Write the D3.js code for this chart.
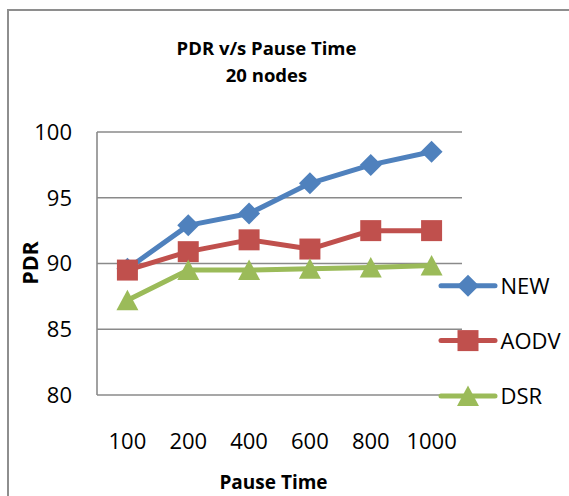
<!DOCTYPE html>
<html>
<head>
<meta charset="utf-8">
<script src="https://cdn.jsdelivr.net/npm/d3@7"></script>
<style>
  html, body { margin: 0; padding: 0; background: #fff; }
  svg { display: block; font-family: "Open Sans", sans-serif; }
</style>
</head>
<body>
<div id="draw-here"></div>
<script>
// values
var categories = ['100', '200', '400', '600', '800', '1000'];
var newPdr  = [89.6, 92.9, 93.8, 96.1, 97.5, 98.5];
var aodvPdr = [89.5, 90.9, 91.8, 91.1, 92.5, 92.5];
var dsrPdr  = [87.2, 89.5, 89.5, 89.6, 89.7, 89.85];
var yTicks = [80, 85, 90, 95, 100];

var seriesNames = ['NEW', 'AODV', 'DSR'];
var seriesValues = [newPdr, aodvPdr, dsrPdr];
var colors = ['#4f81bd', '#c0504d', '#9bbb59'];
var shapes = ['diamond', 'square', 'triangle'];

var width = 569, height = 496;
var plot = { left: 97, right: 462, top: 132, bottom: 395 };

var svg = d3.select('#draw-here').append('svg')
    .attr('width', width)
    .attr('height', height);

// chart frame, only top and left edges show inside the window
svg.append('rect')
    .attr('x', 8).attr('y', 10)
    .attr('width', 600).attr('height', 600)
    .attr('fill', '#fff')
    .attr('stroke', '#8e8e8e')
    .attr('stroke-width', 2);

var x = d3.scaleBand().domain(categories).range([plot.left, plot.right]);
var y = d3.scaleLinear().domain([80, 100]).range([plot.bottom, plot.top]);

// gridlines + bottom axis line
svg.append('g').selectAll('line').data(yTicks).enter().append('line')
    .attr('x1', plot.left).attr('x2', plot.right)
    .attr('y1', function(d) { return y(d); })
    .attr('y2', function(d) { return y(d); })
    .attr('stroke', '#8a8a8a')
    .attr('stroke-width', 1.6);

// left axis line
svg.append('line')
    .attr('x1', plot.left).attr('x2', plot.left)
    .attr('y1', plot.top).attr('y2', plot.bottom)
    .attr('stroke', '#8a8a8a')
    .attr('stroke-width', 1.6);

// y tick labels
svg.append('g').selectAll('text').data(yTicks).enter().append('text')
    .attr('x', 72)
    .attr('y', function(d) { return y(d); })
    .attr('dy', '0.36em')
    .attr('text-anchor', 'end')
    .attr('font-size', 22)
    .text(function(d) { return d; });

// x tick labels
svg.append('g').selectAll('text').data(categories).enter().append('text')
    .attr('x', function(d) { return x(d) + x.bandwidth() / 2; })
    .attr('y', 449)
    .attr('text-anchor', 'middle')
    .attr('font-size', 22)
    .text(function(d) { return d; });

// titles
var title = svg.append('text')
    .attr('x', 266.5)
    .attr('text-anchor', 'middle')
    .attr('font-size', 18.5)
    .attr('font-weight', 'bold');
title.append('tspan').attr('x', 266.5).attr('y', 55).text('PDR v/s Pause Time');
title.append('tspan').attr('x', 266.5).attr('y', 82).text('20 nodes');

svg.append('text')
    .attr('x', 273.5).attr('y', 489)
    .attr('text-anchor', 'middle')
    .attr('font-size', 19)
    .attr('font-weight', 'bold')
    .text('Pause Time');

svg.append('text')
    .attr('transform', 'translate(38, 263) rotate(-90)')
    .attr('text-anchor', 'middle')
    .attr('font-size', 21.5)
    .attr('font-weight', 'bold')
    .text('PDR');

function markerPath(shape) {
  if (shape === 'diamond') return 'M0,-11L11,0L0,11L-11,0Z';
  if (shape === 'square') return 'M-10.5,-10.5H10.5V10.5H-10.5Z';
  return 'M0,-10.5L11,10L-11,10Z';
}

var line = d3.line()
    .x(function(d, i) { return x(categories[i]) + x.bandwidth() / 2; })
    .y(function(d) { return y(d); });

seriesValues.forEach(function(values, s) {
  var g = svg.append('g');
  g.append('path')
      .attr('d', line(values))
      .attr('fill', 'none')
      .attr('stroke', colors[s])
      .attr('stroke-width', 5)
      .attr('stroke-linejoin', 'round');
  g.selectAll('path.m').data(values).enter().append('path')
      .attr('class', 'm')
      .attr('d', markerPath(shapes[s]))
      .attr('transform', function(d, i) {
        return 'translate(' + (x(categories[i]) + x.bandwidth() / 2) + ',' + y(d) + ')';
      })
      .attr('fill', colors[s]);
});

// legend
var legendY = [285.7, 340.6, 396];
var legend = svg.append('g').selectAll('g').data(seriesNames).enter().append('g')
    .attr('transform', function(d, i) { return 'translate(0,' + legendY[i] + ')'; });
legend.append('line')
    .attr('x1', 441).attr('x2', 495)
    .attr('stroke', function(d, i) { return colors[i]; })
    .attr('stroke-width', 5)
    .attr('stroke-linecap', 'round');
legend.append('path')
    .attr('d', function(d, i) { return markerPath(shapes[i]); })
    .attr('transform', 'translate(468,0)')
    .attr('fill', function(d, i) { return colors[i]; });
legend.append('text')
    .attr('x', 500.5)
    .attr('dy', '0.36em')
    .attr('font-size', 22)
    .text(function(d) { return d; });
</script>
</body>
</html>
